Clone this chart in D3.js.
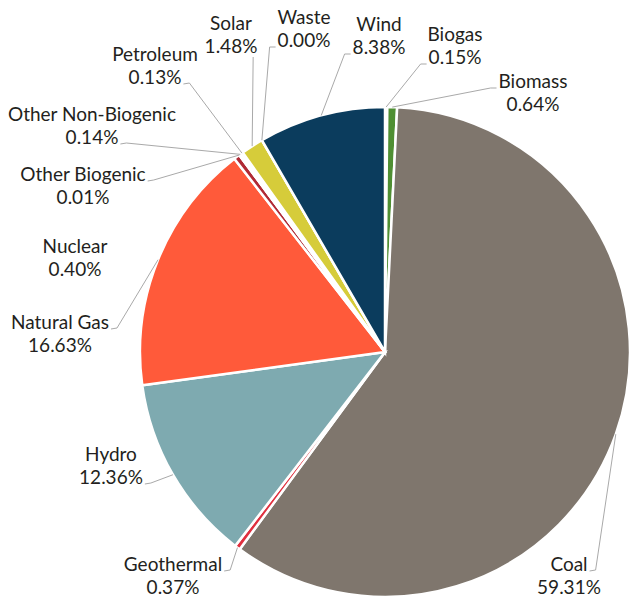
<!DOCTYPE html>
<html>
<head>
    <meta charset="utf-8">
    <style>
        body { margin: 0; background: #fff; }
        path.slice { stroke: #fff; stroke-width: 2.5px; }
        polyline.leader { fill: none; stroke: #a9a9a9; stroke-width: 1px; }
        text.label { font-family: Lato, "Open Sans", sans-serif; font-size: 19px; fill: #231f20; }
    </style>
</head>
<body>
<div id="pie"></div>
<script src="https://cdn.jsdelivr.net/npm/d3@7"></script>
<script>

    var categories = ["Biogas", "Biomass", "Coal", "Geothermal", "Hydro", "Natural Gas", "Nuclear",
        "Other Biogenic", "Other Non-Biogenic", "Petroleum", "Solar", "Waste", "Wind"];
    var shares = [0.15, 0.64, 59.31, 0.37, 12.36, 16.63, 0.40, 0.01, 0.14, 0.13, 1.48, 0.00, 8.38];
    var colors = ["#2f6b2a", "#4f8f33", "#7f766d", "#e0303f", "#7eaab0", "#ff5a3a", "#b02a35",
        "#6b4a2a", "#555555", "#333333", "#d6cc3a", "#999999", "#0b3c5d"];

    // label placement: centre x, first baseline, where the leader starts
    var labelAt = {
        "Biogas": [455, 41, "l"],
        "Biomass": [533, 88, "l1"],
        "Coal": [569, 571, "r1"],
        "Geothermal": [173, 571, "r1"],
        "Hydro": [111, 461, "r"],
        "Natural Gas": [60, 329, "r1"],
        "Nuclear": [75, 253, "none"],
        "Other Biogenic": [83, 181, "r1"],
        "Other Non-Biogenic": [92, 121, "r"],
        "Petroleum": [155, 61, "r"],
        "Solar": [231, 30, "b"],
        "Waste": [304, 24, "l"],
        "Wind": [379, 31, "l"]
    };

    var width = 629, height = 603;
    var cx = 385, cy = 352, radius = 245;

    var data = categories.map(function (c, i) {
        return {name: c, value: shares[i], color: colors[i]};
    });

    var svg = d3.select("#pie").append("svg")
        .attr("width", width)
        .attr("height", height);

    var pie = d3.pie().sort(null).value(function (d) { return d.value; });
    var arcs = pie(data);

    var arc = d3.arc().innerRadius(0).outerRadius(radius);
    var edge = d3.arc().innerRadius(radius).outerRadius(radius);

    var gPie = svg.append("g").attr("transform", "translate(" + cx + "," + cy + ")");
    var gLines = svg.append("g");
    var gTexts = svg.append("g");

    gPie.selectAll("path.slice")
        .data(arcs)
        .enter()
        .append("path")
        .attr("class", "slice")
        .attr("fill", function (d) { return d.data.color; })
        .attr("d", arc);

    arcs.forEach(function (d) {
        var pos = labelAt[d.data.name];
        var t = gTexts.append("text")
            .attr("class", "label")
            .attr("text-anchor", "middle")
            .attr("x", pos[0])
            .attr("y", pos[1]);
        var t1 = t.append("tspan").attr("x", pos[0]).text(d.data.name);
        var t2 = t.append("tspan").attr("x", pos[0]).attr("dy", 23)
            .text(d.data.value.toFixed(2) + "%");

        if (pos[2] == "none") return;

        var p = edge.centroid(d);
        var end = [p[0] + cx, p[1] + cy];
        var useFirst = pos[2].length > 1;
        var w = (useFirst ? t1 : t2).node().getComputedTextLength();
        var y = useFirst ? pos[1] : pos[1] + 23;
        var pts;
        if (pos[2][0] == "r") {
            var x0 = pos[0] + w / 2 + 2;
            pts = [[x0, y], [x0 + 6, y - 1], end];
        } else if (pos[2][0] == "l") {
            var x1 = pos[0] - w / 2 - 2;
            pts = [[x1, y], [x1 - 6, y], end];
        } else {
            pts = [[end[0] + 1, pos[1] + 27], end];
        }
        gLines.append("polyline")
            .attr("class", "leader")
            .attr("points", pts.map(function (q) { return q.join(","); }).join(" "));
    });

</script>
</body>
</html>
